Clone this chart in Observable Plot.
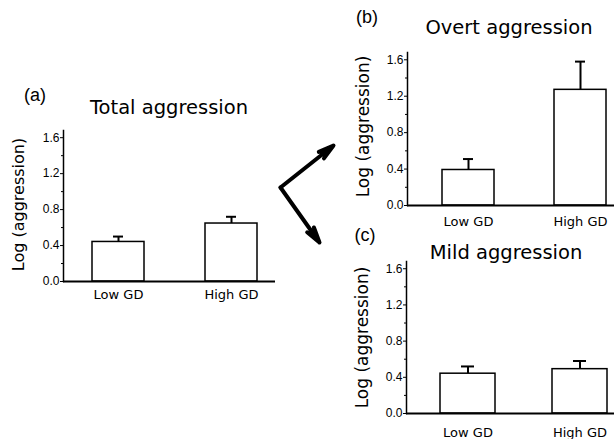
<!DOCTYPE html>
<html><head><meta charset="utf-8">
<script src="https://cdn.jsdelivr.net/npm/d3@7"></script>
<script src="https://cdn.jsdelivr.net/npm/@observablehq/plot@0.6"></script>
<style>
body{margin:0;background:#fff}
#c{position:relative;width:614px;height:439px;overflow:hidden;background:#fff}
#c svg{position:absolute;left:0;top:0}
</style></head><body><div id="c"></div>
<script>
// ---- data ----
const groups = ["Low GD", "High GD"];
const panelLetters = ["(a)", "(b)", "(c)"];
const panelTitles = ["Total aggression", "Overt aggression", "Mild aggression"];
const yLabel = "Log (aggression)";
const totalMean = [0.44, 0.645];
const totalErr = [0.50, 0.72];
const overtMean = [0.39, 1.27];
const overtErr = [0.51, 1.58];
const mildMean = [0.44, 0.49];
const mildErr = [0.52, 0.58];
const yTicks = [0, 0.4, 0.8, 1.2, 1.6];
const yMinorTicks = [0.2, 0.6, 1.0, 1.4];

// ---- layout (page pixels) ----
const W = 614, H = 439;
const panels = [
  {means: totalMean, errs: totalErr, left: 63, right: 275, top: 130, bottom: 281, pi: 0.54, po: 0.208, align: 0.617, xPad: 8,
   title: {x: 168.5, y: 107}, letter: {x: 34.5, y: 95}, ylab: {x: 18, y: 204, size: 16}},
  {means: overtMean, errs: overtErr, left: 407, right: 614, top: 52, bottom: 205, pi: 0.54, po: 0.192, align: 0.81, xPad: 11,
   title: {x: 508.5, y: 27}, letter: {x: 366.5, y: 17}, ylab: {x: 363, y: 126, size: 17}},
  {means: mildMean, errs: mildErr, left: 406, right: 614, top: 261, bottom: 413, pi: 0.51, po: 0.183, align: 0.83, xPad: 14,
   title: {x: 505.5, y: 252}, letter: {x: 364.5, y: 235}, ylab: {x: 362, y: 337, size: 17}}
];
const arrowLinks = [
  {x1: 280, y1: 187, x2: 333, y2: 145},
  {x1: 280, y1: 187, x2: 319, y2: 242}
];

const container = document.getElementById("c");

panels.forEach((p, i) => {
  const data = groups.map((g, j) => ({group: g, mean: p.means[j], err: p.errs[j]}));
  const chart = Plot.plot({
    width: W, height: H,
    marginLeft: p.left, marginRight: W - p.right, marginTop: p.top, marginBottom: H - p.bottom,
    style: {background: "transparent", fontFamily: "Liberation Sans, Arial, sans-serif", fontSize: "12px", overflow: "visible"},
    x: {type: "band", domain: groups, paddingInner: p.pi, paddingOuter: p.po, align: p.align, axis: null},
    y: {domain: [0, 1.68], axis: null},
    marks: [
      Plot.ruleX(data, {x: "group", y1: "mean", y2: "err", stroke: "black", strokeWidth: 2}),
      Plot.tickY(data, {x: "group", y: "err", stroke: "black", strokeWidth: 2, insetLeft: 21, insetRight: 21}),
      Plot.barY(data, {x: "group", y: "mean", fill: "white", stroke: "black", strokeWidth: 1.5}),
      Plot.axisY({ticks: yTicks, tickSize: 3, tickPadding: 1, tickFormat: d3.format(".1f"), label: null, strokeWidth: 1}),
      Plot.axisY({ticks: yMinorTicks, tickSize: 2, tickFormat: () => "", label: null, strokeWidth: 1}),
      Plot.axisX({tickSize: 0, tickPadding: p.xPad, label: null, fontFamily: "DejaVu Sans, Verdana, sans-serif", fontSize: 13}),
      Plot.frame({anchor: "left", strokeWidth: 1.5}),
      Plot.ruleY([0], {stroke: "black", strokeWidth: 2})
    ]
  });
  container.appendChild(chart);
});

// annotations overlay (titles, panel letters, axis labels, arrows)
const titleData = panels.map((p, i) => ({text: panelTitles[i], x: p.title.x, y: p.title.y}));
const letterData = panels.map((p, i) => ({text: panelLetters[i], x: p.letter.x, y: p.letter.y}));
const ylabData = panels.map((p) => ({text: yLabel, x: p.ylab.x, y: p.ylab.y, size: p.ylab.size}));
const overlay = Plot.plot({
  width: W, height: H, margin: 0,
  style: {background: "transparent", overflow: "visible"},
  x: {type: "linear", domain: [0, W], range: [0, W], axis: null},
  y: {type: "linear", domain: [0, H], range: [0, H], axis: null},
  marks: [
    Plot.text(titleData, {x: "x", y: "y", text: "text", fontFamily: "DejaVu Sans, Verdana, sans-serif", fontSize: 19.5, fill: "black", textAnchor: "middle", lineAnchor: "middle"}),
    Plot.text(letterData, {x: "x", y: "y", text: "text", fontFamily: "Liberation Sans, Arial, sans-serif", fontSize: 18, fill: "black", textAnchor: "middle", lineAnchor: "middle"}),
    ...ylabData.map(d => Plot.text([d], {x: "x", y: "y", text: "text", rotate: -90, fontFamily: "DejaVu Sans, Verdana, sans-serif", fontSize: d.size, fill: "black", textAnchor: "middle", lineAnchor: "middle"})),
    Plot.arrow(arrowLinks, {x1: "x1", y1: "y1", x2: "x2", y2: "y2", stroke: "black", strokeWidth: 4, headLength: 6, headAngle: 30, insetEnd: 0, insetStart: 0})
  ]
});
container.appendChild(overlay);
</script></body></html>
